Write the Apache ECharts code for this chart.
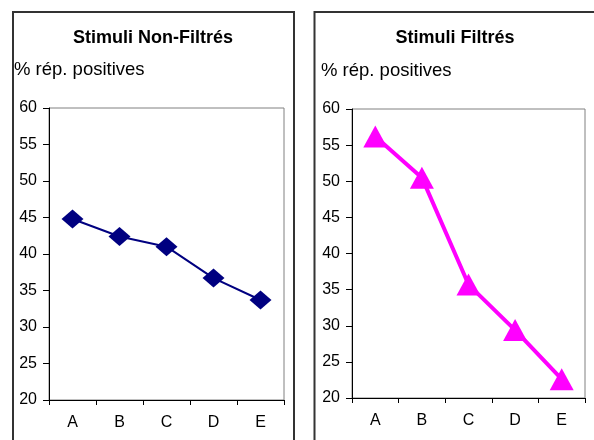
<!DOCTYPE html>
<html>
<head>
<meta charset="utf-8">
<style>
  html, body { margin: 0; padding: 0; background: #fff; }
  #chart { width: 594px; height: 440px; }
</style>
<script src="https://cdn.jsdelivr.net/npm/echarts@6/dist/echarts.min.js"></script>
</head>
<body>
<div id="chart"></div>
<script>
// Categories and response rates (% positive responses)
const categories = ['A', 'B', 'C', 'D', 'E'];
const nonFiltres = [44.8, 42.4, 41.0, 36.7, 33.7];
const filtres = [56.2, 50.5, 35.7, 29.4, 22.6];

const panelTitles = ['Stimuli Non-Filtrés', 'Stimuli Filtrés'];
const axisTitle = '% rép. positives';
const yMin = 20, yMax = 60, yStep = 5;

const FONT = '"Liberation Sans", Arial, sans-serif';

const chart = echarts.init(document.getElementById('chart'), null, { renderer: 'canvas' });

function xAxisFor(gridIndex) {
  return {
    type: 'category',
    gridIndex: gridIndex,
    data: categories,
    boundaryGap: true,
    axisLine: { show: true, lineStyle: { color: '#000', width: 1 } },
    axisTick: { show: true, length: 5, alignWithLabel: false, lineStyle: { color: '#000' } },
    axisLabel: { color: '#000', fontSize: 16, fontFamily: FONT, margin: 15 },
    splitLine: { show: false }
  };
}

function yAxisFor(gridIndex) {
  return {
    type: 'value',
    gridIndex: gridIndex,
    min: yMin,
    max: yMax,
    interval: yStep,
    axisLine: { show: true, lineStyle: { color: '#000', width: 1 } },
    axisTick: { show: true, length: 6, lineStyle: { color: '#000' } },
    axisLabel: { color: '#000', fontSize: 16, fontFamily: FONT, margin: 12 },
    splitLine: { show: false }
  };
}

function textEl(text, x, y, align, weight, size) {
  return {
    type: 'text',
    x: x,
    y: y,
    style: {
      text: text,
      fill: '#000',
      font: weight + ' ' + size + 'px ' + FONT,
      align: align,
      verticalAlign: 'middle',
      textAlign: align,
      textVerticalAlign: 'middle'
    }
  };
}

const option = {
  animation: false,
  backgroundColor: '#fff',
  grid: [
    { left: 49, top: 108, width: 235, height: 292, show: true, borderColor: '#808080', borderWidth: 1, backgroundColor: 'transparent' },
    { left: 352, top: 109, width: 233, height: 289, show: true, borderColor: '#808080', borderWidth: 1, backgroundColor: 'transparent' }
  ],
  xAxis: [xAxisFor(0), xAxisFor(1)],
  yAxis: [yAxisFor(0), yAxisFor(1)],
  graphic: [
    // panel frames
    { type: 'rect', shape: { x: 13, y: 12, width: 281, height: 460 }, style: { fill: 'none', stroke: '#333', lineWidth: 2 }, silent: true },
    { type: 'rect', shape: { x: 314.5, y: 12, width: 300, height: 460 }, style: { fill: 'none', stroke: '#333', lineWidth: 2 }, silent: true },
    textEl(panelTitles[0], 153, 38, 'center', 'bold', 18),
    textEl(panelTitles[1], 455, 38, 'center', 'bold', 18),
    textEl(axisTitle, 14, 70, 'left', 'normal', 18.5),
    textEl(axisTitle, 321, 71, 'left', 'normal', 18.5)
  ],
  series: [
    {
      type: 'line',
      xAxisIndex: 0,
      yAxisIndex: 0,
      data: nonFiltres,
      symbol: 'diamond',
      symbolSize: [22, 19],
      lineStyle: { color: '#000080', width: 2 },
      itemStyle: { color: '#000080' }
    },
    {
      type: 'line',
      xAxisIndex: 1,
      yAxisIndex: 1,
      data: filtres,
      symbol: 'triangle',
      symbolSize: [24, 22],
      lineStyle: { color: '#FF00FF', width: 4 },
      itemStyle: { color: '#FF00FF' }
    }
  ]
};

chart.setOption(option);
</script>
</body>
</html>
